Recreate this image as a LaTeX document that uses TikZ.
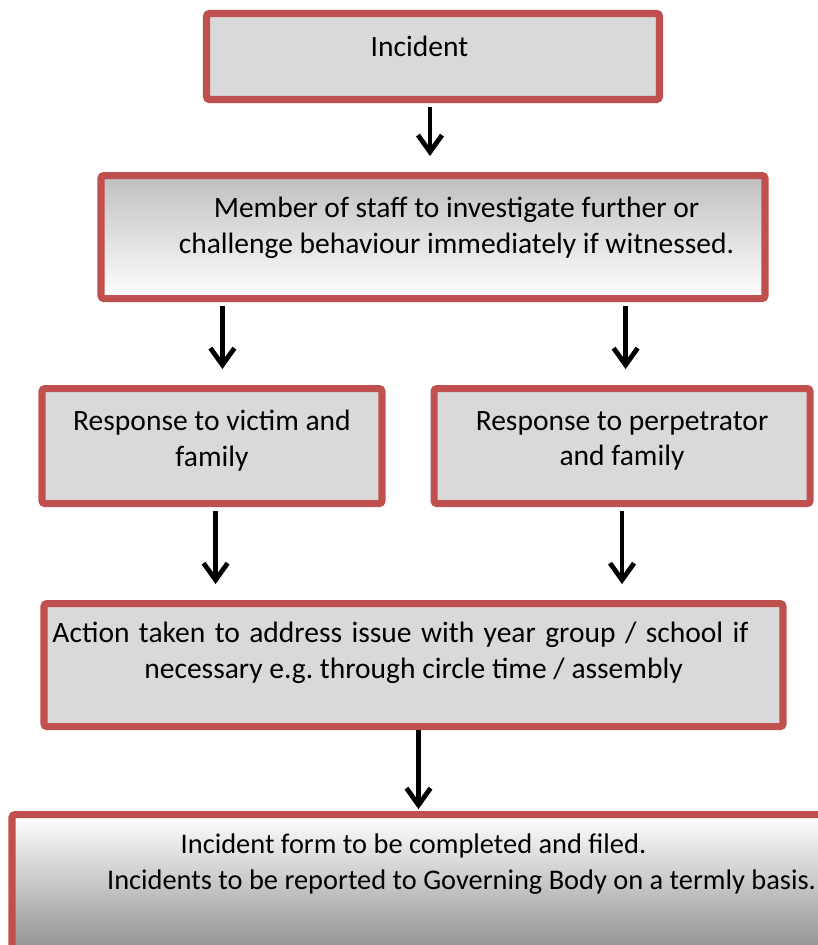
\documentclass[tikz,border=0pt]{standalone}
\usepackage{fontspec}
\setmainfont{Carlito}
\usepackage{tikz}
\usetikzlibrary{arrows.meta,positioning}
\definecolor{boxred}{HTML}{C0504D}
\definecolor{boxgray}{HTML}{D9D9D9}
\frenchspacing

\begin{document}
\begin{tikzpicture}[>={Straight Barb[length=0.42cm,width=0.6cm]},
    box/.style={draw=boxred,line width=5pt,fill=boxgray,rounded corners=2pt,align=center,
      font=\fontsize{21pt}{25.5pt}\selectfont},
    flow/.style={->,line width=3.4pt,shorten <=0.11cm,shorten >=0.4cm}]
  \clip (-10.825,1.4125) rectangle (9.625,-22.2125);
  			\node[box,minimum width=11.325cm,minimum height=2.15cm,text depth=0.525cm]  (incident) []  {Incident\hspace*{0.675cm}};
  			\node[box,top color=black!25,bottom color=white,minimum width=16.6cm,minimum height=3.075cm,text depth=0.6cm]  (staff) [below=1.725cm of incident]
  			  {\hspace*{1.175cm}Member of staff to investigate further or\\\hspace*{1.175cm}challenge behaviour immediately if witnessed.};
            \node[box,minimum width=8.5cm,minimum height=2.875cm,text depth=0.375cm]  (victim) [below=2.075cm of staff,xshift=-5.525cm]  {Response to victim and\\family};
            \node[box,minimum width=9.4cm,minimum height=2.875cm,text depth=0.375cm]  (perpetrator) [right=1.125cm of victim]  {Response to perpetrator\\and family};
            \node[box,minimum width=18.475cm,minimum height=3.075cm,text depth=0.725cm]  (action) [below=2.325cm of victim,xshift=5.0375cm]
              {\makebox[17.4cm][s]{Action taken to address issue with year group / school if}\hspace*{0.65cm}\\necessary e.g. through circle time / assembly};
            \node[box,top color=white,bottom color=black!45,minimum width=22.475cm,minimum height=3.55cm,text depth=1.2cm,
              font=\fontsize{20.2pt}{25pt}\selectfont]  (form) [below=2.025cm of action,xshift=1.2cm]
              {Incident form to be completed and filed.\hspace*{2.4cm}\\Incidents to be reported to Governing Body on a termly basis.};

  			\path[flow]
                     ([xshift=-0.075cm]incident.south) edge ([xshift=-0.075cm]incident.south |- staff.north)
                     ([xshift=0.26cm]victim.north |- staff.south) edge ([xshift=0.26cm]victim.north)
                     ([xshift=0.09cm]perpetrator.north |- staff.south) edge ([xshift=0.09cm]perpetrator.north)
                     ([xshift=0.09cm]victim.south) edge ([xshift=0.09cm]victim.south |- action.north)
                     (perpetrator.south) edge (perpetrator.south |- action.north)
                     ([xshift=0.125cm]action.south) edge[shorten <=0pt,shorten >=0.05cm] ([xshift=0.125cm]action.south |- form.north);
		\end{tikzpicture}
\end{document}
